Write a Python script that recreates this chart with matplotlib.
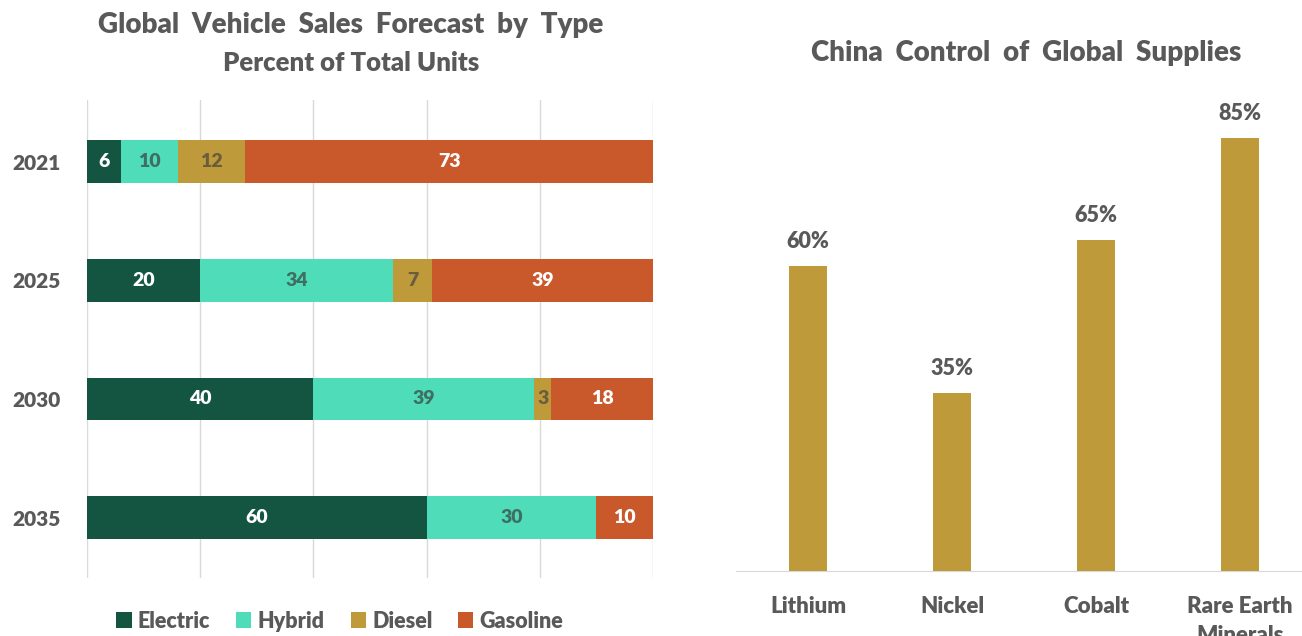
import numpy as np
import matplotlib.pyplot as plt

plt.rcParams['font.family'] = ['Lato', 'DejaVu Sans']
plt.rcParams['font.weight'] = 800

# vehicle sales mix, percent of total units
years = ['2021', '2025', '2030', '2035']
types = ['Electric', 'Hybrid', 'Diesel', 'Gasoline']
electric = [6, 20, 40, 60]
hybrid = [10, 34, 39, 30]
diesel = [12, 7, 3, 0]
gasoline = [73, 39, 18, 10]

# china share of global supply
minerals = ['Lithium', 'Nickel', 'Cobalt', 'Rare Earth\nMinerals']
china_share = [60, 35, 65, 85]

colors = ['#135540', '#4fdcb8', '#bf9a3a', '#c9582a']
label_colors = ['white', '#3e6f62', '#6a5d3e', 'white']
gray = '#595959'
W = 800

fig = plt.figure(figsize=(13.02, 6.36), dpi=100)

# left: stacked horizontal bars
ax1 = fig.add_axes([87 / 1302, 1 - 578 / 636, 566 / 1302, 478 / 636])
series = [electric, hybrid, diesel, gasoline]
y = np.arange(len(years))
left = np.zeros(len(years))
for vals, name, c, lc in zip(series, types, colors, label_colors):
    vals = np.array(vals, dtype=float)
    ax1.barh(y, vals, left=left, height=0.36, color=c, label=name, zorder=3)
    for yi, l, v in zip(y, left, vals):
        if v <= 0:
            continue
        xc = (l + min(l + v, 100)) / 2
        ax1.text(xc, yi, f'{int(v)}', ha='center', va='center',
                 color=lc, fontsize=14, fontweight=W, zorder=4)
    left += vals

ax1.set_xlim(0, 100)
ax1.set_ylim(3.51, -0.52)
ax1.set_xticks(np.arange(0, 101, 20))
ax1.set_xticklabels([])
ax1.tick_params(axis='x', length=0)
ax1.set_yticks(y)
ax1.set_yticklabels(years, fontsize=15, fontweight=W, color=gray)
ax1.tick_params(axis='y', length=0, pad=19)
ax1.grid(axis='x', color='#d9d9d9', linewidth=1, zorder=0)
for s in ax1.spines.values():
    s.set_visible(False)

fig.text(351 / 1302, 1 - 25 / 636, 'Global  Vehicle  Sales  Forecast  by  Type',
         ha='center', va='center', fontsize=20, fontweight=W, color=gray)
fig.text(351 / 1302, 1 - 63 / 636, 'Percent of Total Units',
         ha='center', va='center', fontsize=18.5, fontweight=W, color=gray)

leg = ax1.legend(loc='center', bbox_to_anchor=(340 / 1302, 1 - 621 / 636),
                 bbox_transform=fig.transFigure, ncol=4, frameon=False,
                 handlelength=0.7, handleheight=0.7, handletextpad=0.3,
                 columnspacing=1.2, prop={'size': 15.5, 'weight': W})
for t in leg.get_texts():
    t.set_color(gray)

# right: vertical bars
ax2 = fig.add_axes([736 / 1302, 1 - 571 / 636, 576 / 1302, 509 / 636])
x = np.arange(len(minerals))
bars = ax2.bar(x, china_share, width=0.26, color='#bf9a3a', zorder=3)
for b, v in zip(bars, china_share):
    ax2.annotate(f'{v}%', (b.get_x() + b.get_width() / 2, v),
                 xytext=(0, 10), textcoords='offset points',
                 ha='center', va='bottom', fontsize=15.5,
                 fontweight=W, color=gray)
ax2.set_xlim(-0.5, 3.5)
ax2.set_ylim(0, 100)
ax2.set_xticks(x)
ax2.set_xticklabels(minerals, fontsize=16, fontweight=W, color=gray,
                    va='top', linespacing=1.45)
ax2.tick_params(axis='x', length=0, pad=18)
ax2.set_yticks([])
for s in ['top', 'right', 'left']:
    ax2.spines[s].set_visible(False)
ax2.spines['bottom'].set_color('#d9d9d9')

fig.text(1026 / 1302, 1 - 53 / 636, 'China  Control  of  Global  Supplies',
         ha='center', va='center', fontsize=20, fontweight=W, color=gray)

fig.savefig('out.png', dpi=100)
